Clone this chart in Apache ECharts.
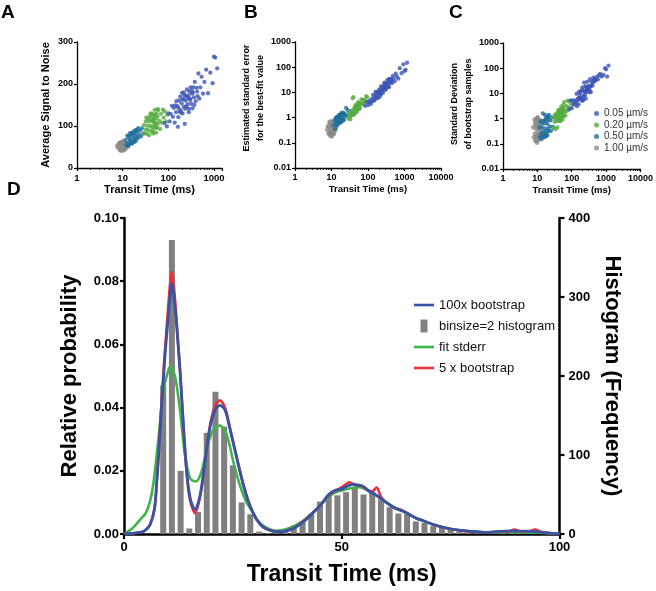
<!DOCTYPE html>
<html><head><meta charset="utf-8">
<script src="https://cdn.jsdelivr.net/npm/echarts@6/dist/echarts.min.js"></script>
<style>html,body{margin:0;padding:0;background:#fff}#c{width:656px;height:591px}</style>
</head><body><div id="c"></div>
<script>
const FONT = '"Liberation Sans", Arial, Helvetica, sans-serif';

// ---------- Panel D data ----------
const histCenters = [1,3,5,7,9,11,13,15,17,19,21,23,25,27,29,31,33,35,37,39,41,43,45,47,49,51,53,55,57,59,61,63,65,67,69,71,73,75,77,79,81,83,85,87,89,91,93,95,97,99];
const histFreq = [0,0,0,0,188,372,80,7,28,128,180,136,87,40,25,3,1,2,4,11,16,25,41,49,49,53,58,50,54,44,34,26,25,16,14,10,8,6,3,2,2,1,1,2,2,2,1,1,0,0];
const boot100 = [[0,0],[2,0.0002],[4,0.0006],[5,0.0013],[6,0.003],[7,0.008],[7.5,0.016],[8,0.026],[8.6,0.04],[9,0.048],[9.5,0.058],[10,0.066],[10.5,0.074],[10.95,0.0794],[11.4,0.076],[11.9,0.069],[12.3,0.062],[12.9,0.051],[13.6,0.0355],[14.4,0.0197],[15.2,0.0113],[16.3,0.0077],[17.5,0.0124],[18.6,0.0229],[19.7,0.0334],[20.9,0.0392],[22,0.0407],[23.2,0.0392],[24.3,0.0334],[25.9,0.024],[27.4,0.0155],[28.9,0.009],[30.5,0.0045],[32,0.0022],[33.5,0.0012],[35,0.0007],[37,0.0009],[39,0.0018],[40.5,0.0032],[42,0.0048],[44,0.0075],[45.5,0.0098],[47,0.0125],[48.5,0.0138],[50,0.0142],[51,0.015],[52.5,0.0157],[54,0.0155],[55,0.015],[56.5,0.0133],[58,0.0122],[60,0.0102],[62,0.0083],[64,0.0072],[65.5,0.0062],[67,0.005],[68,0.0045],[71,0.003],[74,0.0019],[77,0.0012],[80,0.0008],[83,0.0005],[86,0.0008],[89,0.001],[92,0.0009],[94,0.0008],[97,0.0004],[100,0]];
const boot5 = [[0,0],[2,0.0002],[4,0.0006],[5,0.0013],[6,0.003],[7,0.008],[7.5,0.016],[8,0.027],[8.6,0.041],[9,0.05],[9.5,0.06],[10,0.069],[10.5,0.078],[10.95,0.083],[11.4,0.079],[11.9,0.071],[12.3,0.063],[12.9,0.051],[13.6,0.035],[14.4,0.019],[15.2,0.0105],[16.3,0.0066],[17.5,0.012],[18.6,0.023],[19.7,0.034],[20.9,0.0405],[22,0.0423],[23.2,0.04],[24.3,0.0338],[25.9,0.0242],[27.4,0.0158],[28.9,0.0092],[30.5,0.0045],[32,0.0021],[33.5,0.0012],[35,0.0007],[37,0.0009],[39,0.0019],[40.5,0.0033],[42,0.005],[44,0.0076],[45.5,0.0097],[47,0.0122],[48.5,0.0136],[50,0.0148],[51.8,0.0164],[53,0.0155],[54.5,0.0152],[56,0.0138],[57,0.0135],[58,0.0147],[59,0.0118],[60,0.0102],[62,0.0084],[64,0.0074],[65.5,0.0063],[67,0.005],[68,0.0046],[71,0.003],[74,0.0019],[77,0.0011],[80,0.0007],[83,0.0005],[86,0.0007],[88,0.0007],[89.7,0.0014],[91,0.0008],[93,0.0008],[94.3,0.0014],[96,0.0006],[100,0]];
const fitStderr = [[0,0],[2,0.0019],[4,0.005],[5,0.0066],[6,0.0105],[6.7,0.0155],[7.9,0.03],[9,0.045],[10,0.051],[10.6,0.053],[11.7,0.05],[12.9,0.0386],[14,0.025],[15.2,0.0176],[16.5,0.0166],[17.8,0.0197],[19,0.027],[20.5,0.033],[22,0.0343],[23.6,0.0313],[25.1,0.0229],[26.6,0.0155],[28.2,0.0098],[29.7,0.0066],[30.5,0.0045],[32.8,0.0019],[35,0.001],[37.4,0.0016],[40.4,0.0035],[43.5,0.007],[46,0.0105],[48,0.0128],[50,0.0138],[52,0.0145],[54,0.0148],[56,0.0138],[58,0.0122],[60,0.0103],[62,0.0085],[64,0.0073],[66,0.0058],[68,0.0046],[71,0.003],[74,0.0019],[77,0.0012],[80,0.0008],[85,0.0005],[90,0.0006],[95,0.0004],[100,0]];

// ---------- Panels A-C data (transit time, SNR, fit stderr, bootstrap SD) ----------
const v005Time = [83,93,100,107,112,120,126,132,138,141,148,151,158,162,166,174,178,182,191,195,200,204,214,219,224,229,240,245,251,257,263,275,282,288,295,309,316,331,339,355,363,380,398,417,437,457,479,501,537,575,617,676,741,832,933,1000,1070,1175,186,209,234,269,302,324,372,427,166,219,282,347];
const v005SNR = [107,99,130,111,129,148,122,143,108,149,133,159,147,98,143,161,134,170,132,154,179,130,163,146,173,105,161,172,146,187,152,172,141,182,165,192,153,177,142,192,168,205,159,191,171,225,165,192,217,177,205,234,178,227,202,265,263,237,138,164,141,167,162,184,150,182,121,180,133,180];
const v005SE = [2.9,4.1,3.1,4.6,4.0,3.5,5.5,4.5,8.0,4.8,6.5,4.8,6.2,10.5,7.2,6.2,9.4,6.0,11.1,8.6,6.4,13.2,9.0,12.0,8.7,17.9,11.8,10.6,15.9,9.5,16.1,13.4,21.6,12.9,17.0,12.9,23.2,18.0,30.7,16.9,24.7,16.3,33.7,23.8,34.5,23.7,45.3,34.3,27.6,55.2,43.2,35.0,91.5,58.1,130,70.8,78.3,150,9.8,8.5,14.8,13.7,18.6,15.6,33.2,28.3,9.7,7.5,24.1,19.0];
const v005SD = [2.3,5.3,2.6,5.1,3.6,5.3,3.9,4.5,9.6,3.1,5.2,6.2,3.7,11.6,6.5,9.3,6.6,6.0,13.3,5.6,5.1,17.2,5.4,13.2,7.8,26.9,8.3,10.6,19.1,6.2,12.9,17.4,13.0,14.2,15.3,19.4,16.2,18.0,36.8,11.0,19.8,21.2,20.2,26.2,31.1,35.6,31.7,34.3,45,35.9,52,60,46.7,54.3,99.5,90.3,46.6,127,11.8,5.5,11.8,17.8,11.2,17.2,29.9,42.5,6.8,7.5,28.9,12.4];

const v020Time = [29,30,32,32,33,34,35,36,36,37,38,39,40,41,42,43,44,45,46,47,48,49,50,51,53,54,55,56,58,59,60,63,66,69,72,76,79,83,89,95,42,45,48,50,52,55,58,47,44,53];
const v020SNR = [102,83,111,92,120,81,101,117,90,111,78,122,100,130,88,116,97,129,86,111,123,95,138,105,117,84,129,96,122,105,138,112,93,129,108,139,120,135,111,127,127,86,116,103,127,96,140,82,111,107];
const v020SE = [0.9,1.45,1.07,1.46,0.85,1.84,1.45,1.22,1.83,1.44,5.8,1.34,6.5,1.30,2.44,1.72,2.34,1.56,2.96,2.17,1.93,2.94,1.71,2.82,2.48,4.10,2.28,3.78,2.73,3.62,2.38,3.70,5.30,3.50,5.08,3.60,5.08,4.49,7.13,6.43,1.44,2.85,2.14,2.76,2.13,3.60,2.18,3.27,1.95,2.88];
const v020SD = [1.09,0.42,1.15,0.75,1.47,0.38,0.98,1.43,0.79,1.29,0.45,1.73,1.05,2.15,0.82,1.62,1.05,2.26,0.85,1.55,2.06,1.11,3.02,1.42,1.93,0.91,2.64,1.24,2.33,1.59,4.5,2.0,1.31,3.10,1.99,5.2,2.82,4.8,2.48,3.84,2.04,0.85,1.76,1.35,2.40,1.24,3.48,0.80,1.47,1.55];

const v050Time = [11.5,12.0,12.6,12.9,13.2,13.5,13.8,14.1,14.5,14.8,15.1,15.5,15.8,16.2,16.6,17.0,17.4,17.8,18.2,18.6,19.1,19.5,20.0,20.4,20.9,21.4,21.9,22.9,24.0,25.1,26.3,28.2,15.1,16.6,18.2,20.0];
const v050SNR = [67,54,77,60,53,75,70,57,83,66,80,63,78,58,85,72,83,64,89,69,80,65,89,74,87,71,95,79,89,75,94,82,59,83,62,91];
const v050SE = [0.50,0.80,0.36,0.77,1.0,0.53,0.66,1.03,0.49,0.86,0.58,1.02,0.69,1.29,0.61,0.95,0.70,1.32,0.66,1.23,0.94,1.56,0.78,1.30,0.93,1.55,0.80,1.40,1.17,2.4,1.19,1.97,1.12,0.65,1.48,0.74];
const v050SD = [0.44,0.19,0.79,0.25,0.15,0.65,0.45,0.19,1.6,0.32,0.81,0.26,0.65,0.18,1.4,0.41,0.85,0.24,1.14,0.32,0.62,0.22,1.08,0.39,0.86,0.31,1.41,0.49,0.85,0.33,1.11,0.47,0.20,0.87,0.20,1.22];

const v100Time = [7.6,7.9,8.3,8.5,8.7,8.9,9.1,9.3,9.5,9.8,10.0,10.2,10.5,10.7,11.0,11.2,11.5,11.7,12.0,12.6,13.2,8.9,9.3,9.8,10.2,10.7,11.2,9.1,10.0,11.0];
const v100SNR = [53,48,59,49,58,42,53,60,46,62,50,56,43,59,48,55,45,59,51,53,51,43,62,41,63,45,59,56,47,53];
const v100SE = [0.33,0.45,0.23,0.44,0.25,0.66,0.33,0.22,0.50,0.19,0.41,0.27,0.62,0.23,0.47,0.29,0.58,0.23,0.38,0.31,0.39,0.62,0.19,0.71,0.18,0.54,0.23,0.27,0.50,0.33];
const v100SD = [0.45,0.18,0.89,0.25,0.63,0.13,0.40,0.79,0.20,1.0,0.28,0.56,0.14,0.71,0.22,0.50,0.16,0.89,0.32,0.45,0.25,0.14,1.0,0.11,1.12,0.18,0.71,0.56,0.20,0.40];

const groupNames = ['0.05 µm/s','0.20 µm/s','0.50 µm/s','1.00 µm/s'];
const groupColors = ['#3d55b5','#55ad3f','#1f6e9a','#8a8a8a'];
const groupTime = [v005Time, v020Time, v050Time, v100Time];
const groupSNR = [v005SNR, v020SNR, v050SNR, v100SNR];
const groupSE = [v005SE, v020SE, v050SE, v100SE];
const groupSD = [v005SD, v020SD, v050SD, v100SD];

// ---------- chart ----------
const zip = (xs, ys) => xs.map((x, i) => [x, ys[i]]);
const bold = {fontFamily: FONT, fontWeight: 'bold', color: '#000'};
const logFmt = v => String(+Number(v).toPrecision(6));
const lineTop = {show: true, onZero: false, lineStyle: {color: '#000', width: 1.3}};
const tickTop = {show: true, inside: false, length: 3, lineStyle: {color: '#000', width: 1.2}};
const minorTop = {show: true, splitNumber: 9, length: 2, lineStyle: {color: '#000', width: 0.8}};
const noSplit = {show: false};

function topX(idx, max, hideMax, fs, tfs) {
  return {gridIndex: idx, type: 'log', logBase: 10, min: 1, max: max,
    axisLine: lineTop, axisTick: tickTop, minorTick: minorTop, splitLine: noSplit, minorSplitLine: noSplit,
    axisLabel: Object.assign({}, bold, {fontSize: fs, margin: 5, showMaxLabel: !hideMax, formatter: logFmt}),
    name: 'Transit Time (ms)', nameLocation: 'middle', nameGap: 16,
    nameTextStyle: Object.assign({}, bold, {fontSize: tfs})};
}
function topYLog(idx, name, gap, pad) {
  return {gridIndex: idx, type: 'log', logBase: 10, min: 0.01, max: 1000,
    axisLine: lineTop, axisTick: tickTop, splitLine: noSplit,
    axisLabel: Object.assign({}, bold, {fontSize: 9, margin: 4, formatter: logFmt}),
    name: name, nameLocation: 'middle', nameGap: gap,
    nameTextStyle: Object.assign({}, bold, {fontSize: 9, lineHeight: 14, padding: pad})};
}

const series = [];
const panels = [groupSNR, groupSE, groupSD];
panels.forEach((ys, p) => {
  for (let g = groupNames.length - 1; g >= 0; g--) {
    series.push({type: 'scatter', name: groupNames[g], xAxisIndex: p, yAxisIndex: p,
      symbol: 'circle', symbolSize: g === 3 ? 4.6 : 4.3, silent: true,
      itemStyle: {color: groupColors[g]},
      data: zip(groupTime[g], ys[g])});
  }
});
series.push({type: 'bar', name: 'binsize=2 histogram', xAxisIndex: 3, yAxisIndex: 4,
  barWidth: 6, itemStyle: {color: '#808080'}, data: zip(histCenters, histFreq)});
series.push({type: 'line', name: 'fit stderr', xAxisIndex: 3, yAxisIndex: 3, symbol: 'none', smooth: 0.3,
  lineStyle: {color: '#3db54a', width: 2.6}, itemStyle: {color: '#3db54a'}, data: fitStderr});
series.push({type: 'line', name: '5 x bootstrap', xAxisIndex: 3, yAxisIndex: 3, symbol: 'none', smooth: 0.3,
  lineStyle: {color: '#e6323a', width: 2.6}, itemStyle: {color: '#e6323a'}, data: boot5});
series.push({type: 'line', name: '100x bootstrap', xAxisIndex: 3, yAxisIndex: 3, symbol: 'none', smooth: 0.3,
  lineStyle: {color: '#3953a4', width: 2.8}, itemStyle: {color: '#3953a4'}, data: boot100});

const dLine = {show: true, onZero: false, lineStyle: {color: '#000', width: 2.5}};
const dTick = {show: true, inside: false, length: 5, lineStyle: {color: '#000', width: 2.2}};
const lineIcon = 'path://M0,0L20,0L20,2.6L0,2.6Z';

const option = {
  animation: false,
  backgroundColor: '#fff',
  textStyle: {fontFamily: FONT},
  grid: [
    {left: 77, top: 42, width: 145, height: 126},
    {left: 295, top: 42, width: 146, height: 126},
    {left: 503, top: 43, width: 140, height: 126},
    {left: 124, top: 218, width: 435.5, height: 318}
  ],
  xAxis: [
    topX(0, 1500, true, 9.5, 11),
    topX(1, 10000, false, 9, 9.5),
    topX(2, 10000, false, 9, 9.5),
    {gridIndex: 3, type: 'value', min: 0, max: 100, interval: 50,
      axisLine: dLine, axisTick: dTick, splitLine: noSplit,
      axisLabel: Object.assign({}, bold, {fontSize: 13, margin: 7}),
      name: 'Transit Time (ms)', nameLocation: 'middle', nameGap: 29,
      nameTextStyle: Object.assign({}, bold, {fontSize: 23})}
  ],
  yAxis: [
    {gridIndex: 0, type: 'value', min: 0, max: 300, interval: 100,
      axisLine: lineTop, axisTick: tickTop, splitLine: noSplit,
      axisLabel: Object.assign({}, bold, {fontSize: 9, margin: 4}),
      name: 'Average Signal to Noise', nameLocation: 'middle', nameGap: 26,
      nameTextStyle: Object.assign({}, bold, {fontSize: 11})},
    topYLog(1, 'Estimated standard error\nfor the best-fit value', 17, [0, 0, 0, 14]),
    topYLog(2, 'Standard Deviation\nof bootstrap samples', 24, [0, 0, 0, 4]),
    {gridIndex: 3, type: 'value', min: 0, max: 0.1, interval: 0.02,
      axisLine: dLine, axisTick: Object.assign({}, dTick, {length: 4}), splitLine: noSplit,
      axisLabel: Object.assign({}, bold, {fontSize: 13, margin: 5, formatter: v => v.toFixed(2)}),
      name: 'Relative probability', nameLocation: 'middle', nameGap: 43,
      nameTextStyle: Object.assign({}, bold, {fontSize: 22})},
    {gridIndex: 3, type: 'value', position: 'right', min: 0, max: 400, interval: 100,
      axisLine: dLine, axisTick: dTick, splitLine: noSplit,
      axisLabel: Object.assign({}, bold, {fontSize: 13, margin: 9}),
      name: 'Histogram (Frequency)', nameLocation: 'middle', nameGap: 40, nameRotate: -90,
      nameTextStyle: Object.assign({}, bold, {fontSize: 22})}
  ],
  legend: [
    {orient: 'vertical', left: 414, top: 298.5, itemWidth: 20, itemHeight: 13, itemGap: 8,
      symbolKeepAspect: true, selectedMode: false, padding: 0,
      textStyle: {fontFamily: FONT, fontSize: 13, color: '#111', lineHeight: 13},
      data: [
        {name: '100x bootstrap', icon: lineIcon},
        {name: 'binsize=2 histogram', icon: 'path://M0,0L7,0L7,13L0,13Z'},
        {name: 'fit stderr', icon: lineIcon},
        {name: '5 x bootstrap', icon: lineIcon}
      ]},
    {orient: 'vertical', left: 594, top: 108, itemWidth: 5, itemHeight: 5, itemGap: 0.5,
      icon: 'circle', selectedMode: false, padding: 0,
      textStyle: {fontFamily: FONT, fontSize: 10, color: '#333', lineHeight: 11},
      data: groupNames}
  ],
  graphic: [
    {type: 'text', left: 1, top: 3, style: {text: 'A', font: 'bold 19px ' + FONT, fill: '#000'}},
    {type: 'text', left: 244, top: 3, style: {text: 'B', font: 'bold 19px ' + FONT, fill: '#000'}},
    {type: 'text', left: 449, top: 3, style: {text: 'C', font: 'bold 19px ' + FONT, fill: '#000'}},
    {type: 'text', left: 7, top: 180, style: {text: 'D', font: 'bold 19px ' + FONT, fill: '#000'}}
  ],
  series: series
};

const chart = echarts.init(document.getElementById('c'), null, {renderer: 'canvas', width: 656, height: 591});
chart.setOption(option);
</script>
</body></html>
